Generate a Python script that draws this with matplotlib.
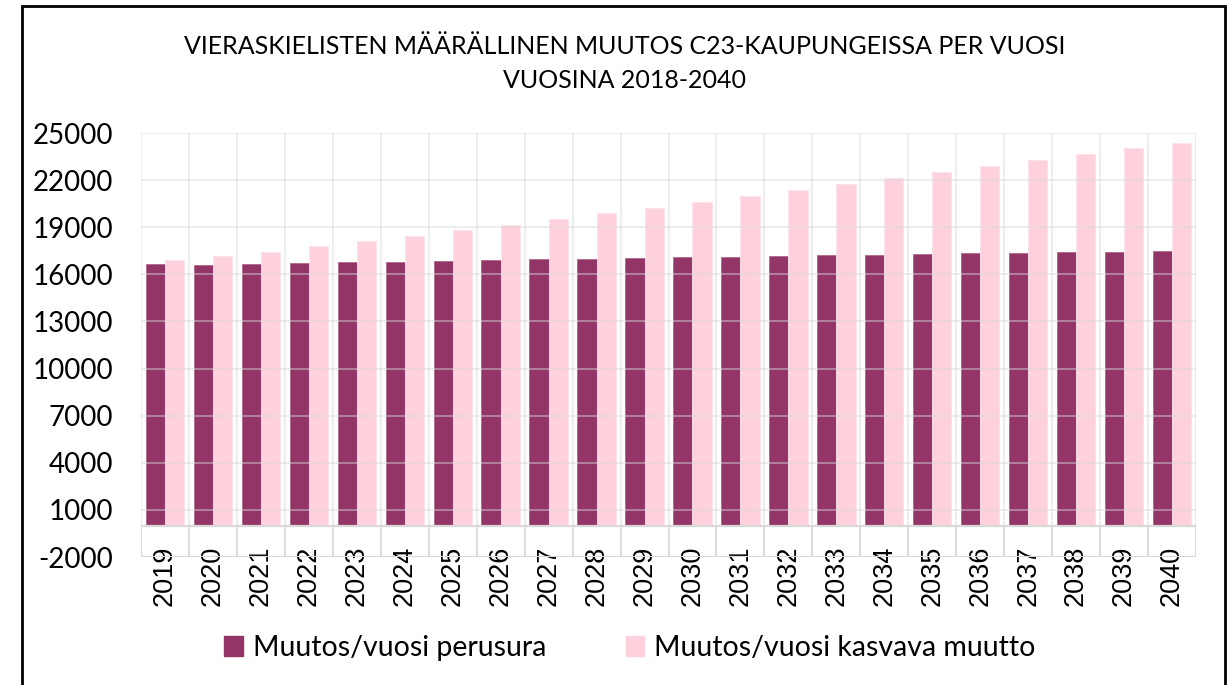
import numpy as np
import matplotlib.pyplot as plt
from matplotlib.patches import Rectangle, Patch

years = [str(y) for y in range(2019, 2041)]

perusura = [16640, 16615, 16660, 16720, 16760, 16790, 16830, 16900,
            16960, 17000, 17040, 17080, 17120, 17170, 17210, 17250,
            17295, 17340, 17360, 17400, 17440, 17465]

kasvava = [16890, 17170, 17440, 17800, 18120, 18460, 18820, 19160,
           19520, 19900, 20220, 20600, 20980, 21350, 21730, 22110,
           22490, 22880, 23260, 23640, 24020, 24340]

y_ticks = list(range(-2000, 25001, 3000))

title_1 = "VIERASKIELISTEN MÄÄRÄLLINEN MUUTOS C23-KAUPUNGEISSA PER VUOSI"
title_2 = "VUOSINA 2018-2040"
labels = ["Muutos/vuosi perusura", "Muutos/vuosi kasvava muutto"]

c_perus = "#933566"
c_kasv = "#ffd1dc"
grid_c = "#d9d9d9"

calibri_like = ["Lato", "DejaVu Sans"]


def plot_chart():
    fig = plt.figure(figsize=(12.3, 6.85), dpi=100)
    ax = fig.add_axes([141 / 1230, 1 - 557 / 685, 1055 / 1230, 424 / 685])

    x = np.arange(len(years))
    w = 0.4
    ax.bar(x - w / 2, perusura, w, color=c_perus, edgecolor="#b0678c",
           linewidth=0.6, zorder=2)
    ax.bar(x + w / 2, kasvava, w, color=c_kasv, edgecolor="#ffe3ea",
           linewidth=0.6, zorder=2)

    ax.set_xlim(-0.5, len(years) - 0.5)
    ax.set_ylim(-2000, 25000)

    # grid drawn on top of the bars, like the original
    for yv in y_ticks:
        ax.axhline(yv, color=grid_c, alpha=0.5, lw=1.3, zorder=3)
    for k in range(len(years) + 1):
        ax.plot([k - 0.5, k - 0.5], [0, 25000], color=grid_c, alpha=0.5,
                lw=1.3, zorder=3)
        ax.plot([k - 0.5, k - 0.5], [-2000, 0], color=grid_c, lw=1.3,
                zorder=3)
    ax.axhline(0, color=grid_c, lw=1.6, zorder=4)
    ax.axhline(-2000, color=grid_c, lw=1.6, zorder=4)

    for s in ax.spines.values():
        s.set_visible(False)

    ax.set_xticks([])
    ax.set_yticks(y_ticks)
    ax.set_yticklabels([str(v) for v in y_ticks], family=calibri_like,
                       fontsize=20)
    ax.tick_params(axis="y", length=0, pad=20)

    for i, yr in enumerate(years):
        ax.annotate(yr, (i, 0), xytext=(0, -20), textcoords="offset pixels",
                    rotation=90, ha="center", va="top",
                    family=["Liberation Sans", "DejaVu Sans"], fontsize=19.5)

    fig.text(0.508, 1 - 47 / 685, title_1, ha="center", va="center",
             family=calibri_like, fontsize=18)
    fig.text(0.508, 1 - 81 / 685, title_2, ha="center", va="center",
             family=calibri_like, fontsize=18)

    handles = [Patch(color=c_perus), Patch(color=c_kasv)]
    fig.legend(handles, labels, loc="center", bbox_to_anchor=(0.512, 1 - 648 / 685),
               ncol=2, frameon=False, handlelength=0.65, handleheight=0.65,
               handletextpad=0.35, columnspacing=2.8,
               prop={"family": calibri_like, "size": 20.5})

    fig.patches.append(Rectangle((22 / 1230, -0.2), 1203 / 1230, 1.2 - 6 / 685,
                                 transform=fig.transFigure, fill=False,
                                 edgecolor="black", lw=2))

    fig.savefig("out.png", dpi=100)


if __name__ == "__main__":
    plot_chart()
